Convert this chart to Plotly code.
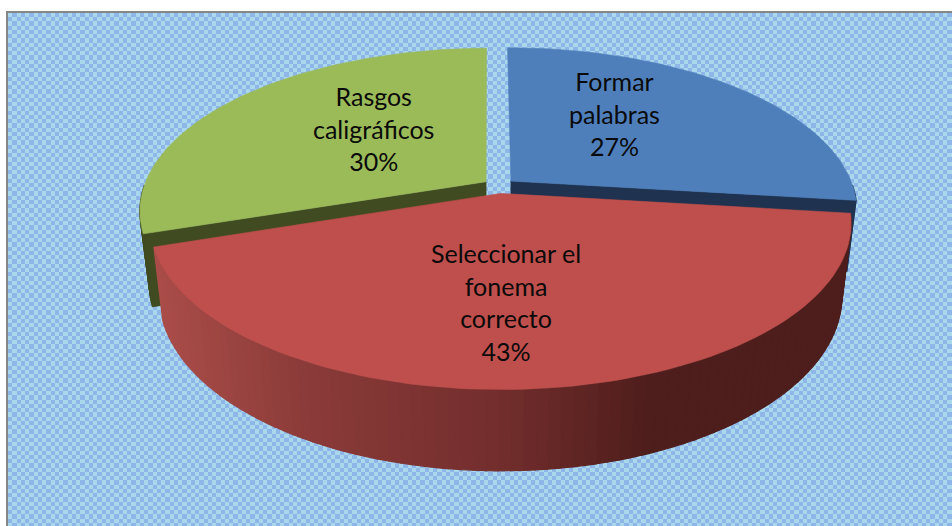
import numpy as np
import plotly.graph_objects as go

# chart data
categories = ['Formar<br>palabras', 'Seleccionar el<br>fonema<br>correcto', 'Rasgos<br>caligráficos']
shares = [27, 43, 30]

# styling
TOP_COLORS = ['#4F7FBB', '#BE4F4C', '#9BBB59']
CUT_COLORS = ['#1F3350', '#4E1D1C', '#414B21']
LABEL_XY = [(614, 113), (506, 302), (373, 128.5)]
WIDTH, HEIGHT = 952, 526

# fake 3d camera, fitted by eye to the reference
CX, CY = 499, 186
RADIUS = 342
EXPLODE = 16
FIRST_ANGLE = -0.3
TILT = 0.4634
PERSP = 0.177
DEPTH = 70.5
BOTTOM_SCALE = 0.974


def project(px, ps, lower=False):
    # px, ps: ground plane coordinates; ps grows towards the viewer
    f = 1 / (1 - PERSP * ps / RADIUS)
    shrink = BOTTOM_SCALE if lower else 1
    dz = DEPTH if lower else 0
    return CX + px * f * shrink, CY + (TILT * ps * shrink + dz) * f


def rim(theta, mid):
    return (RADIUS * np.sin(theta) + EXPLODE * np.sin(mid),
            -RADIUS * np.cos(theta) - EXPLODE * np.cos(mid))


def poly(fig, xs, ys, color, width=0.6):
    fig.add_trace(go.Scatter(
        x=list(xs) + [xs[0]], y=list(ys) + [ys[0]],
        mode='lines', fill='toself', fillcolor=color,
        line=dict(color=color, width=width),
        hoverinfo='skip', showlegend=False,
    ))


def wall_color(x):
    stops_x = [150, 300, 500, 650, 860]
    stops_r = [172, 140, 115, 78, 78]
    stops_g = [78, 60, 46, 30, 30]
    stops_b = [74, 58, 45, 28, 28]
    r = np.interp(x, stops_x, stops_r)
    g = np.interp(x, stops_x, stops_g)
    b = np.interp(x, stops_x, stops_b)
    return f'rgb({int(r)},{int(g)},{int(b)})'


def draw_slice(fig, start, end, idx):
    mid = (start + end) / 2
    apex = (EXPLODE * np.sin(mid), -EXPLODE * np.cos(mid))
    thetas = np.linspace(start, end, 90)
    arc = [rim(t, mid) for t in thetas]

    # outer wall, only the front half can be seen
    for (p0, p1) in zip(arc[:-1], arc[1:]):
        if p0[1] < 0 and p1[1] < 0:
            continue
        a0, a1 = project(*p0), project(*p1)
        b0, b1 = project(*p0, lower=True), project(*p1, lower=True)
        color = wall_color((a0[0] + a1[0]) / 2) if idx == 1 else CUT_COLORS[idx]
        poly(fig, [a0[0], a1[0], b1[0], b0[0]], [a0[1], a1[1], b1[1], b0[1]], color, width=1.2)

    # cut face on the side that looks at the viewer
    if idx != 1:
        edge = arc[0] if idx == 2 else arc[-1]
        a1, a2 = project(*apex), project(*edge)
        b1, b2 = project(*apex, lower=True), project(*edge, lower=True)
        poly(fig, [a1[0], a2[0], b2[0], b1[0]], [a1[1], a2[1], b2[1], b1[1]], CUT_COLORS[idx])

    # top face
    pts = [project(*apex)] + [project(*p) for p in arc]
    poly(fig, [p[0] for p in pts], [p[1] for p in pts], TOP_COLORS[idx])


fig = go.Figure()

# checker background of the plot frame
CELL = 4.25
nx = int((WIDTH - 8) / CELL) + 1
ny = int((HEIGHT - 13) / CELL) + 1
checker = np.indices((ny, nx)).sum(axis=0) % 2
fig.add_trace(go.Heatmap(
    z=checker, x0=8 + CELL / 2, dx=CELL, y0=13 + CELL / 2, dy=CELL,
    colorscale=[[0, '#A9D7EC'], [1, '#8FB6E8']],
    showscale=False, hoverinfo='skip', zsmooth=False,
))
fig.add_trace(go.Scatter(
    x=[7, 7, WIDTH], y=[HEIGHT, 12, 12], mode='lines',
    line=dict(color='#868686', width=2), hoverinfo='skip', showlegend=False,
))

angles = np.radians(FIRST_ANGLE) + np.cumsum([0] + shares) / sum(shares) * 2 * np.pi
# green and blue sit behind the red slice
for idx in [2, 0, 1]:
    draw_slice(fig, angles[idx], angles[idx + 1], idx)

for name, share, (lx, ly) in zip(categories, shares, LABEL_XY):
    fig.add_annotation(
        x=lx, y=ly, text=f'{name}<br>{share}%', showarrow=False,
        font=dict(family='Lato', size=25, color='#0a0a0a'), align='center',
    )

fig.update_layout(
    width=WIDTH, height=HEIGHT,
    margin=dict(l=0, r=0, t=0, b=0),
    paper_bgcolor='white', plot_bgcolor='white',
    xaxis=dict(range=[0, WIDTH], visible=False, fixedrange=True),
    yaxis=dict(range=[HEIGHT, 0], visible=False, fixedrange=True),
    showlegend=False,
)

# the page body has a default margin that would shift the figure
fig.write_html("out.html", config={'displayModeBar': False},
               post_script="document.body.style.margin='0';")
